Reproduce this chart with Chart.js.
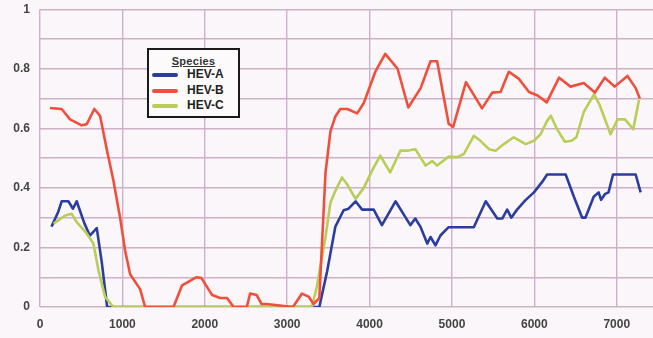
<!DOCTYPE html>
<html>
<head>
<meta charset="utf-8">
<script src="https://cdn.jsdelivr.net/npm/chart.js@4"></script>
<style>
    html, body { margin: 0; padding: 0; background: #fbf6f9; overflow: hidden; }
    #wrap { position: relative; width: 653px; height: 338px; overflow: hidden; }
    #chart { position: absolute; left: 0; top: -8px; }
    #legendBox {
        position: absolute; left: 147px; top: 48px; width: 89px; height: 66px;
        border: 2px solid #1a1a1a; background: #fdfafc;
        font-family: 'Liberation Sans', Arial, sans-serif; color: #222;
    }
    #legendBox .title {
        text-align: center; font-size: 11px; font-weight: bold; text-decoration: underline;
        margin-top: 5px; line-height: 12px; color: #333; letter-spacing: 0.3px;
    }
    #legendBox .item { position: relative; height: 15.5px; font-size: 12px; font-weight: bold; line-height: 15px; }
    #legendBox .item span.swatch { position: absolute; left: 3px; top: 6px; width: 26px; height: 4px; border-radius: 2px; }
    #legendBox .item span.label { position: absolute; left: 38px; top: 0; }
</style>
</head>
<body>
<div id="wrap">
    <canvas id="chart" width="653" height="346"></canvas>
    <div id="legendBox">
        <div class="title">Species</div>
        <div class="item"><span class="swatch" style="background:#2b3d9e"></span><span class="label">HEV-A</span></div>
        <div class="item"><span class="swatch" style="background:#ef4f3b"></span><span class="label">HEV-B</span></div>
        <div class="item"><span class="swatch" style="background:#b9cd58"></span><span class="label">HEV-C</span></div>
    </div>
</div>
<script>
// --- data (genome position / similarity) ---
const hevAPos = [140, 222, 263, 344, 400, 445, 540, 605, 689, 750, 815, 930, 3280, 3390, 3485, 3585, 3685, 3745, 3830, 3910, 4050, 4150, 4315, 4495, 4555, 4620, 4700, 4740, 4800, 4860, 4960, 5265, 5410, 5550, 5610, 5670, 5720, 5790, 5890, 5995, 6095, 6155, 6380, 6480, 6580, 6620, 6720, 6780, 6810, 6860, 6900, 6955, 7230, 7290];
const hevAVal = [0.27, 0.32, 0.355, 0.355, 0.33, 0.355, 0.28, 0.24, 0.265, 0.15, 0, 0, 0, 0, 0.12, 0.27, 0.325, 0.33, 0.355, 0.327, 0.327, 0.275, 0.355, 0.275, 0.297, 0.268, 0.213, 0.235, 0.207, 0.24, 0.268, 0.268, 0.355, 0.297, 0.297, 0.327, 0.3, 0.327, 0.358, 0.385, 0.42, 0.445, 0.445, 0.37, 0.3, 0.3, 0.37, 0.385, 0.36, 0.38, 0.385, 0.445, 0.445, 0.385];

const hevBPos = [120, 263, 365, 506, 567, 660, 729, 810, 891, 972, 1033, 1094, 1215, 1276, 1620, 1725, 1900, 1960, 2090, 2187, 2270, 2350, 2510, 2550, 2630, 2690, 2750, 3070, 3180, 3260, 3320, 3390, 3465, 3525, 3585, 3645, 3730, 3850, 3930, 4070, 4190, 4340, 4470, 4620, 4740, 4820, 4960, 5015, 5170, 5365, 5490, 5590, 5690, 5810, 5935, 6040, 6150, 6300, 6440, 6600, 6735, 6855, 6975, 7130, 7230, 7280];
const hevBVal = [0.668, 0.665, 0.63, 0.61, 0.614, 0.665, 0.642, 0.53, 0.425, 0.30, 0.19, 0.11, 0.06, 0, 0, 0.073, 0.10, 0.097, 0.04, 0.03, 0.03, 0, 0, 0.045, 0.04, 0.01, 0.01, 0, 0.045, 0.035, 0.01, 0.03, 0.45, 0.59, 0.64, 0.665, 0.665, 0.65, 0.685, 0.79, 0.85, 0.80, 0.67, 0.735, 0.825, 0.825, 0.615, 0.605, 0.755, 0.667, 0.72, 0.722, 0.79, 0.767, 0.722, 0.71, 0.687, 0.77, 0.74, 0.752, 0.72, 0.77, 0.74, 0.776, 0.735, 0.70];

const hevCPos = [165, 304, 385, 445, 567, 648, 709, 790, 891, 3300, 3360, 3465, 3525, 3585, 3665, 3725, 3830, 3930, 4030, 4130, 4250, 4375, 4455, 4555, 4680, 4760, 4820, 4960, 5065, 5145, 5265, 5345, 5450, 5530, 5630, 5750, 5895, 5995, 6075, 6155, 6200, 6270, 6370, 6450, 6510, 6600, 6725, 6790, 6925, 7010, 7100, 7200, 7270];
const hevCVal = [0.28, 0.307, 0.313, 0.285, 0.247, 0.213, 0.124, 0.034, 0, 0, 0.068, 0.235, 0.35, 0.39, 0.435, 0.413, 0.363, 0.40, 0.458, 0.508, 0.452, 0.525, 0.525, 0.53, 0.475, 0.49, 0.475, 0.505, 0.503, 0.514, 0.575, 0.558, 0.53, 0.525, 0.547, 0.57, 0.547, 0.558, 0.58, 0.625, 0.642, 0.6, 0.555, 0.558, 0.57, 0.655, 0.714, 0.68, 0.58, 0.63, 0.63, 0.597, 0.695];

// tick positions and which ones get a label
const xTicks = [0, 1000, 2000, 3000, 4000, 5000, 6000, 7000];
const yTicks = [0, 0.1, 0.2, 0.3, 0.4, 0.5, 0.6, 0.7, 0.8, 0.9, 1];
const yLabels = ['0', '', '0.2', '', '0.4', '', '0.6', '', '0.8', '', '1'];

const toPoints = (pos, val) => pos.map((p, i) => ({ x: p, y: val[i] }));

const gridColor = '#cdb1cb';
const tickFont = { family: "'Liberation Sans', Arial, sans-serif", size: 12, weight: 'bold' };

new Chart(document.getElementById('chart'), {
    type: 'line',
    data: {
        datasets: [
            { label: 'HEV-B', data: toPoints(hevBPos, hevBVal), borderColor: '#ef4f3b', order: 0 },
            { label: 'HEV-C', data: toPoints(hevCPos, hevCVal), borderColor: '#b9cd58', order: 1 },
            { label: 'HEV-A', data: toPoints(hevAPos, hevAVal), borderColor: '#2b3d9e', order: 2 }
        ]
    },
    options: {
        responsive: false,
        animation: false,
        elements: {
            line: { borderWidth: 2.6, tension: 0, fill: false, borderJoinStyle: 'round' },
            point: { radius: 0 }
        },
        layout: { padding: 0 },
        plugins: { legend: { display: false }, tooltip: { enabled: false } },
        scales: {
            x: {
                type: 'linear',
                min: 0,
                max: 7440,
                afterBuildTicks: (scale) => {
                    scale.ticks = xTicks.map(v => ({ value: v }));
                },
                afterFit: (scale) => { scale.height = 31; },
                border: { display: false },
                grid: { color: gridColor, lineWidth: 1.4, drawTicks: false },
                ticks: {
                    color: '#444', font: tickFont, padding: 10, maxRotation: 0, autoSkip: false,
                    callback: (v) => String(v)
                }
            },
            y: {
                type: 'linear',
                min: 0,
                max: 1,
                afterBuildTicks: (scale) => {
                    scale.ticks = yTicks.map(v => ({ value: v }));
                },
                afterFit: (scale) => { scale.width = 40; },
                border: { display: false },
                grid: { color: gridColor, lineWidth: 1.4, drawTicks: false },
                ticks: {
                    color: '#444',
                    font: tickFont,
                    padding: 10,
                    autoSkip: false,
                    callback: (v, i) => yLabels[i]
                }
            }
        }
    }
});
</script>
</body>
</html>
